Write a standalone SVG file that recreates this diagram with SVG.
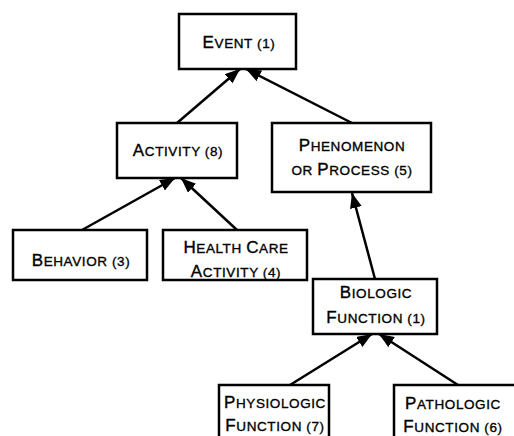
<svg xmlns="http://www.w3.org/2000/svg" width="514" height="436" viewBox="0 0 514 436">
  <style>
    .box { fill: #fff; stroke: #000; stroke-width: 2.5; }
    .lbl { font-family: "Liberation Sans", Arial, Helvetica, sans-serif; font-size: 17px; fill: #000; stroke: #000; stroke-width: 0.35; text-anchor: middle; letter-spacing: 0.6px; }
    .sc { font-size: 13.5px; }
    .edge { stroke: #000; stroke-width: 2.5; fill: none; marker-end: url(#head); }
  </style>
  <defs>
    <marker id="head" markerUnits="userSpaceOnUse" viewBox="0 0 15 12" refX="15" refY="6" markerWidth="15" markerHeight="12" orient="auto">
      <path d="M0,0 L15,6 L0,12 Z" fill="#000"/>
    </marker>
  </defs>
  <rect width="514" height="436" fill="#fff"/>

  <g id="event">
    <rect class="box" x="179" y="14" width="117" height="55"/>
    <text class="lbl" x="239" y="48">E<tspan class="sc">VENT (1)</tspan></text>
  </g>

  <g id="activity">
    <rect class="box" x="117" y="123" width="120" height="55"/>
    <text class="lbl" x="178" y="156">A<tspan class="sc">CTIVITY (8)</tspan></text>
  </g>

  <g id="phenomenon">
    <rect class="box" x="272" y="123" width="159" height="69"/>
    <text class="lbl" x="352" y="151">P<tspan class="sc">HENOMENON</tspan></text>
    <text class="lbl" x="352" y="175"><tspan class="sc">OR </tspan>P<tspan class="sc">ROCESS (5)</tspan></text>
  </g>

  <g id="behavior">
    <rect class="box" x="13" y="230" width="134" height="50"/>
    <text class="lbl" x="81" y="266">B<tspan class="sc">EHAVIOR (3)</tspan></text>
  </g>

  <g id="health-care">
    <rect class="box" x="163" y="230" width="144" height="50"/>
    <text class="lbl" x="236" y="253">H<tspan class="sc">EALTH </tspan>C<tspan class="sc">ARE</tspan></text>
    <text class="lbl" x="236" y="277">A<tspan class="sc">CTIVITY (4)</tspan></text>
  </g>

  <g id="biologic">
    <rect class="box" x="313" y="279" width="124" height="55"/>
    <text class="lbl" x="376" y="298">B<tspan class="sc">IOLOGIC</tspan></text>
    <text class="lbl" x="376" y="323">F<tspan class="sc">UNCTION (1)</tspan></text>
  </g>

  <g id="physiologic">
    <rect class="box" x="219" y="385" width="110" height="60"/>
    <text class="lbl" x="275" y="408">P<tspan class="sc">HYSIOLOGIC</tspan></text>
    <text class="lbl" x="275" y="431">F<tspan class="sc">UNCTION (7)</tspan></text>
  </g>

  <g id="pathologic">
    <rect class="box" x="394" y="385" width="124" height="60"/>
    <text class="lbl" x="453" y="409">P<tspan class="sc">ATHOLOGIC</tspan></text>
    <text class="lbl" x="453" y="432">F<tspan class="sc">UNCTION (6)</tspan></text>
  </g>

  <g id="connectors">
    <line class="edge" x1="177" y1="123" x2="240" y2="69"/>
    <line class="edge" x1="352" y1="123" x2="246" y2="69"/>
    <line class="edge" x1="82" y1="230" x2="175" y2="178"/>
    <line class="edge" x1="237" y1="230" x2="181" y2="178"/>
    <line class="edge" x1="375" y1="279" x2="352" y2="193"/>
    <line class="edge" x1="290" y1="385" x2="372" y2="334"/>
    <line class="edge" x1="458" y1="385" x2="379" y2="334"/>
  </g>
</svg>
